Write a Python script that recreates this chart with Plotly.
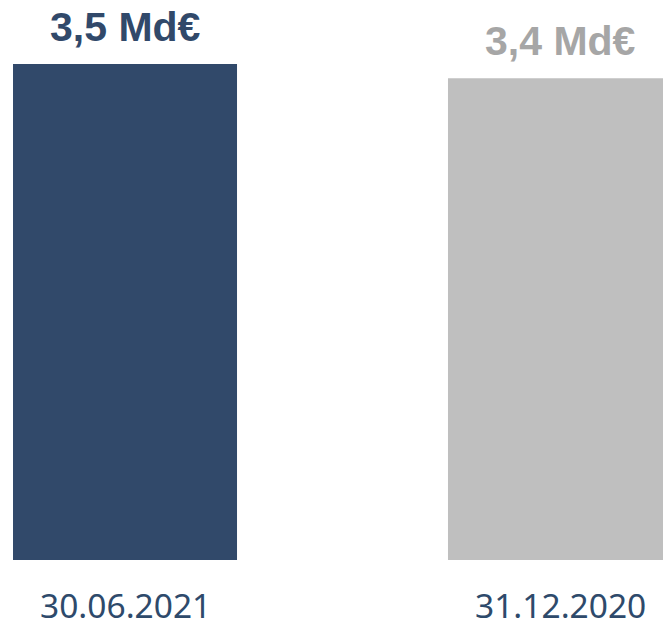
import plotly.graph_objects as go

categories = ["30.06.2021", "31.12.2020"]
values = [3.5, 3.4]
value_labels = ["3,5 Md€", "3,4 Md€"]
bar_colors = ["#31496A", "#BFBFBF"]
label_colors = ["#31496A", "#A6A6A6"]

xs = list(range(len(categories)))

fig = go.Figure()
fig.add_trace(go.Bar(
    x=xs, y=values, width=0.515,
    marker=dict(color=bar_colors, line=dict(width=0)),
    hoverinfo="skip",
))

for x, v, t, c in zip(xs, values, value_labels, label_colors):
    fig.add_annotation(x=x, y=v, text=f"<b>{t}</b>", showarrow=False,
                       xanchor="center", yanchor="bottom", yshift=12,
                       font=dict(family="Liberation Sans, Arial", size=41, color=c))

for x, cat in zip(xs, categories):
    fig.add_annotation(x=x, y=0, yref="paper", text=cat, showarrow=False,
                       xanchor="center", yanchor="top", yshift=-20,
                       font=dict(family="Noto Sans", size=33.5, color="#2E4A6B"))

fig.update_layout(
    width=663, height=624,
    margin=dict(l=0, r=0, t=0, b=64),
    paper_bgcolor="white", plot_bgcolor="white",
    showlegend=False,
    xaxis=dict(range=[-0.2874, 1.2368], visible=False),
    yaxis=dict(range=[0, 3.952], visible=False),
)

fig.write_html("out.html", config={"displayModeBar": False},
               post_script="document.body.style.margin='0';document.body.style.overflow='hidden';")
